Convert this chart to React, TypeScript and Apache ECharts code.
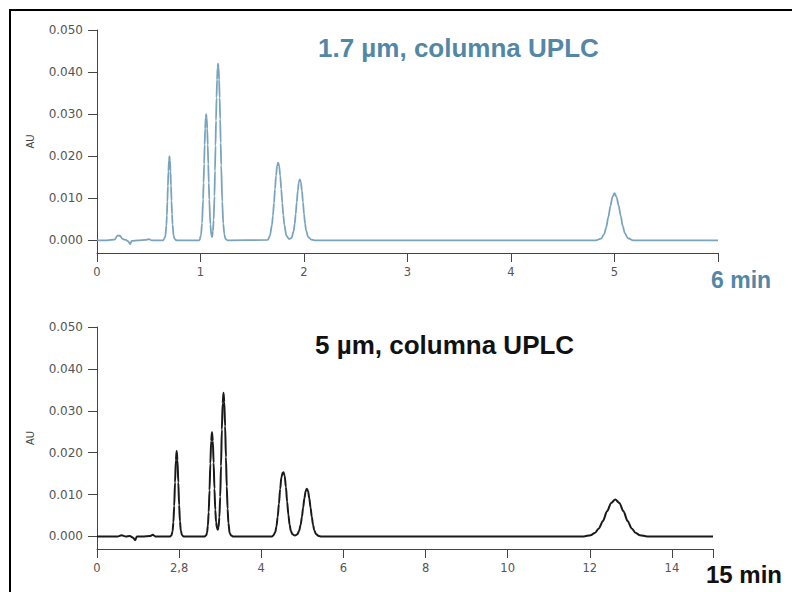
import React, { useEffect, useRef } from "react";
import * as echarts from "echarts";

// Chromatogram traces: [time (min), absorbance (AU)]
const topTrace: [number, number][] = [
  [0, 0], [0.1, 0], [0.17, 0.0002], [0.2, 0.0012], [0.22, 0.0011], [0.25, 0.0003], [0.28, 0.0001],
  [0.3, -0.0002], [0.32, -0.0009], [0.335, -0.0001], [0.4, 0], [0.47, 0.0001], [0.5, 0.0003], [0.53, 0],
  [0.64, 0], [0.66, 0.0009], [0.67, 0.0035], [0.675, 0.0059], [0.68, 0.0092], [0.685, 0.0129], [0.69, 0.0164],
  [0.695, 0.019], [0.7, 0.02], [0.705, 0.019], [0.71, 0.0164], [0.715, 0.013], [0.72, 0.0094], [0.725, 0.0062],
  [0.73, 0.0038], [0.74, 0.0011], [0.75, 0.0003], [0.77, 0],
  [0.99, 0], [1.005, 0.0013], [1.015, 0.0041], [1.025, 0.0097], [1.03, 0.0137], [1.035, 0.0182], [1.04, 0.0227],
  [1.045, 0.0265], [1.05, 0.0291], [1.055, 0.03], [1.06, 0.0291], [1.065, 0.0265], [1.07, 0.0227], [1.075, 0.0182],
  [1.08, 0.0137], [1.085, 0.0097], [1.095, 0.0038], [1.105, 0.0012], [1.112, 0.0008], [1.12, 0.0022],
  [1.127, 0.0048], [1.135, 0.0105], [1.14, 0.0165], [1.145, 0.0225], [1.15, 0.0285], [1.155, 0.0339],
  [1.16, 0.0382], [1.165, 0.041], [1.17, 0.042], [1.175, 0.041], [1.18, 0.0382], [1.185, 0.0339], [1.19, 0.0288],
  [1.195, 0.0232], [1.2, 0.0179], [1.21, 0.0092], [1.22, 0.004], [1.23, 0.0015], [1.24, 0.0004], [1.26, 0],
  [1.65, 0.0001], [1.67, 0.001], [1.69, 0.0036], [1.7, 0.0059], [1.71, 0.0089], [1.72, 0.0122], [1.73, 0.0154],
  [1.74, 0.0177], [1.75, 0.0185], [1.76, 0.0177], [1.77, 0.0154], [1.78, 0.0122], [1.79, 0.0089], [1.8, 0.006],
  [1.81, 0.0037], [1.83, 0.0011], [1.855, 0.0003], [1.88, 0.0006], [1.9, 0.0022], [1.91, 0.0039], [1.92, 0.0063],
  [1.93, 0.0091], [1.94, 0.0118], [1.95, 0.0138], [1.96, 0.0145], [1.97, 0.0138], [1.98, 0.0118], [1.99, 0.0091],
  [2.0, 0.0063], [2.01, 0.004], [2.02, 0.0024], [2.04, 0.0008], [2.07, 0.0002], [2.1, 0],
  [4.82, 0], [4.87, 0.0004], [4.9, 0.0015], [4.92, 0.0031], [4.94, 0.0055], [4.96, 0.0081], [4.98, 0.0103],
  [5.0, 0.0112], [5.02, 0.0103], [5.04, 0.0083], [5.06, 0.0058], [5.08, 0.0034], [5.1, 0.0017], [5.13, 0.0005],
  [5.18, 0], [6, 0],
];

const bottomTrace: [number, number][] = [
  [0, 0], [0.5, 0], [0.6, 0.0003], [0.7, 0], [0.8, 0.0001], [0.88, -0.0003], [0.93, -0.0009], [0.97, 0],
  [1.1, 0], [1.3, 0.0001], [1.36, 0.0004], [1.42, 0],
  [1.78, 0], [1.81, 0.0002], [1.84, 0.0012], [1.86, 0.0034], [1.88, 0.0073], [1.9, 0.0129], [1.92, 0.0182],
  [1.94, 0.0204], [1.96, 0.0182], [1.98, 0.0129], [2.0, 0.0075], [2.02, 0.0036], [2.04, 0.0014], [2.07, 0.0003],
  [2.11, 0],
  [2.62, 0], [2.66, 0.0003], [2.68, 0.0009], [2.7, 0.0026], [2.72, 0.0058], [2.74, 0.011], [2.76, 0.0174],
  [2.78, 0.0228], [2.8, 0.0249], [2.82, 0.0228], [2.84, 0.0176], [2.86, 0.0114], [2.88, 0.0064], [2.9, 0.0034],
  [2.92, 0.0021], [2.94, 0.0016], [2.96, 0.0022], [2.98, 0.0046], [3.0, 0.0095], [3.02, 0.0168], [3.04, 0.0255],
  [3.06, 0.0318], [3.08, 0.0343], [3.1, 0.0321], [3.12, 0.0263], [3.14, 0.0189], [3.16, 0.0119], [3.18, 0.0066],
  [3.2, 0.0032], [3.23, 0.0008], [3.27, 0.0002], [3.32, 0],
  [4.26, 0], [4.3, 0.0003], [4.34, 0.001], [4.37, 0.0024], [4.4, 0.0047], [4.43, 0.0078], [4.46, 0.0113],
  [4.49, 0.0141], [4.52, 0.0152], [4.54, 0.0153], [4.57, 0.0145], [4.6, 0.0118], [4.63, 0.0083], [4.66, 0.0052],
  [4.69, 0.0028], [4.72, 0.0013], [4.76, 0.0005], [4.82, 0.0002], [4.88, 0.0005], [4.92, 0.0013], [4.96, 0.0028],
  [4.99, 0.0047], [5.02, 0.0069], [5.05, 0.0091], [5.08, 0.0108], [5.11, 0.0114], [5.14, 0.0108], [5.17, 0.0091],
  [5.2, 0.0069], [5.23, 0.0047], [5.26, 0.0028], [5.29, 0.0015], [5.33, 0.0006], [5.4, 0.0001], [5.46, 0],
  [11.85, 0], [12.02, 0.0003], [12.12, 0.0008], [12.22, 0.0019], [12.32, 0.0037], [12.42, 0.006], [12.52, 0.008],
  [12.62, 0.0088], [12.72, 0.008], [12.82, 0.006], [12.92, 0.0037], [13.02, 0.0019], [13.12, 0.0008],
  [13.22, 0.0003], [13.4, 0], [15, 0],
];

const yTicks = [0, 0.01, 0.02, 0.03, 0.04, 0.05];
const topXTicks = [0, 1, 2, 3, 4, 5, 6];
const topXLabels = ["0", "1", "2", "3", "4", "5", ""];
const bottomXTicks = [0, 2, 4, 6, 8, 10, 12, 14, 15];
const bottomXLabels = ["0", "2,8", "4", "6", "8", "10", "12", "14", ""];

const topTitle = "1.7 µm, columna UPLC";
const bottomTitle = "5 µm, columna UPLC";
const topUnit = "6 min";
const bottomUnit = "15 min";
const yName = "AU";

const BLUE = "#5387a6";
const LINE_BLUE = "#7aa4be";
const FONT = "'Liberation Sans', Arial, sans-serif";
const TICK_FONT = "'DejaVu Sans', sans-serif";

function yAxisCfg(gridIndex: number) {
  return {
    type: "value",
    gridIndex,
    min: -0.003,
    max: 0.05,
    name: yName,
    nameLocation: "middle",
    nameGap: 62,
    nameRotate: 90,
    nameTextStyle: { fontSize: 10, color: "#444", fontFamily: FONT },
    axisLine: { show: true, onZero: false, lineStyle: { color: "#444", width: 1 } },
    axisTick: { show: true, length: 9, customValues: yTicks, lineStyle: { color: "#444" } },
    axisLabel: {
      customValues: yTicks,
      margin: 14,
      fontSize: 12,
      color: "#555",
      fontFamily: TICK_FONT,
      formatter: (v: number) => v.toFixed(3),
    },
    splitLine: { show: false },
  };
}

function xAxisCfg(gridIndex: number, max: number, interval: number, ticks: number[], labels: string[]) {
  return {
    type: "value",
    gridIndex,
    min: 0,
    max,
    interval,
    axisLine: { show: true, onZero: false, lineStyle: { color: "#444", width: 1 } },
    axisTick: { show: true, length: 9, lineStyle: { color: "#444" } },
    axisLabel: {
      margin: 13,
      fontSize: 11.5,
      color: "#555",
      fontFamily: TICK_FONT,
      showMaxLabel: true,
      formatter: (v: number) => {
        const i = ticks.findIndex((t) => Math.abs(t - v) < 1e-6);
        return i >= 0 ? labels[i] : "";
      },
    },
    splitLine: { show: false },
  };
}

export default function App() {
  const ref = useRef<HTMLDivElement>(null);
  useEffect(() => {
    if (!ref.current) return;
    const chart = echarts.init(ref.current, undefined, { renderer: "svg" });
    chart.setOption({
      animation: false,
      backgroundColor: "#fff",
      grid: [
        { left: 97, top: 30, width: 621, height: 223 },
        { left: 97, top: 327, width: 616, height: 222 },
      ],
      xAxis: [
        xAxisCfg(0, 6, 1, topXTicks, topXLabels),
        xAxisCfg(1, 15, 2, bottomXTicks, bottomXLabels),
      ],
      yAxis: [yAxisCfg(0), yAxisCfg(1)],
      title: [
        {
          text: topTitle,
          left: 318,
          top: 35,
          padding: 0,
          textStyle: { fontSize: 26, fontWeight: "bold", color: BLUE, fontFamily: FONT },
        },
        {
          text: bottomTitle,
          left: 315,
          top: 332,
          padding: 0,
          textStyle: { fontSize: 26, fontWeight: "bold", color: "#111", fontFamily: FONT },
        },
      ],
      graphic: [
        { type: "line", shape: { x1: 9, y1: 10, x2: 792, y2: 10 }, style: { stroke: "#000", lineWidth: 2 } },
        { type: "line", shape: { x1: 10, y1: 9, x2: 10, y2: 592 }, style: { stroke: "#000", lineWidth: 2 } },
        {
          type: "text",
          left: 711,
          top: 268,
          style: { text: topUnit, fontSize: 23, fontWeight: "bold", fill: BLUE, fontFamily: FONT },
        },
        {
          type: "text",
          left: 706,
          top: 562,
          style: { text: bottomUnit, fontSize: 24, fontWeight: "bold", fill: "#111", fontFamily: FONT },
        },
      ],
      series: [
        {
          type: "line",
          xAxisIndex: 0,
          yAxisIndex: 0,
          data: topTrace,
          showSymbol: false,
          smooth: 0.3,
          smoothMonotone: "x",
          lineStyle: { color: LINE_BLUE, width: 1.8 },
        },
        {
          type: "line",
          xAxisIndex: 1,
          yAxisIndex: 1,
          data: bottomTrace,
          showSymbol: false,
          smooth: 0.3,
          smoothMonotone: "x",
          lineStyle: { color: "#1a1a1a", width: 2 },
        },
      ],
    });
    return () => chart.dispose();
  }, []);
  return (
    <div
      ref={ref}
      style={{ position: "absolute", left: 0, top: 0, width: 792, height: 592 }}
    />
  );
}
